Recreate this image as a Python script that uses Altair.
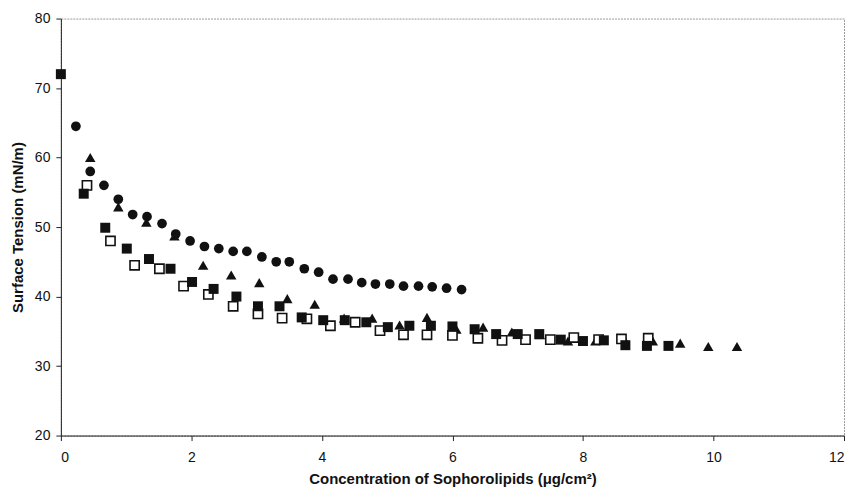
import altair as alt
import pandas as pd

# Filled circles
circle_x = [0.23, 0.45, 0.66, 0.88, 1.10, 1.32, 1.55, 1.76, 1.98, 2.20, 2.42, 2.64, 2.85, 3.08,
            3.30, 3.50, 3.73, 3.95, 4.17, 4.40, 4.61, 4.82, 5.04, 5.25, 5.48, 5.69, 5.91, 6.14]
circle_y = [64.5, 58.0, 56.0, 54.0, 51.8, 51.5, 50.5, 49.0, 48.0, 47.2, 46.9, 46.5, 46.5, 45.7,
            45.0, 45.0, 44.0, 43.5, 42.5, 42.5, 42.0, 41.8, 41.8, 41.5, 41.5, 41.4, 41.2, 41.0]

# Filled triangles
tri_x = [0.45, 0.88, 1.31, 1.74, 2.18, 2.61, 3.04, 3.47, 3.89, 4.34, 4.77, 5.19, 5.61, 6.06,
         6.47, 6.91, 7.34, 7.77, 8.19, 8.63, 9.07, 9.49, 9.92, 10.36]
tri_y = [60.0, 52.9, 50.7, 48.7, 44.5, 43.1, 42.0, 39.7, 38.9, 36.9, 36.9, 35.9, 37.0, 35.3,
         35.6, 34.9, 34.5, 33.6, 33.6, 33.9, 33.6, 33.3, 32.8, 32.8]

# Filled squares
fsq_x = [0.0, 0.35, 0.68, 1.01, 1.35, 1.68, 2.01, 2.34, 2.69, 3.02, 3.35, 3.69, 4.02, 4.35,
         4.68, 5.01, 5.34, 5.67, 6.00, 6.34, 6.67, 7.00, 7.33, 7.66, 8.00, 8.32, 8.65, 8.98, 9.31]
fsq_y = [72.0, 54.8, 49.9, 46.9, 45.4, 44.0, 42.1, 41.1, 40.0, 38.6, 38.6, 37.0, 36.6, 36.6,
         36.3, 35.6, 35.8, 35.8, 35.7, 35.3, 34.6, 34.6, 34.6, 33.8, 33.6, 33.7, 33.0, 32.9, 32.9]

# Open squares
osq_x = [0.40, 0.76, 1.13, 1.51, 1.88, 2.26, 2.64, 3.02, 3.39, 3.77, 4.13, 4.51, 4.89, 5.25,
         5.61, 6.00, 6.39, 6.76, 7.12, 7.50, 7.86, 8.24, 8.59, 9.00]
osq_y = [56.0, 48.0, 44.5, 44.0, 41.5, 40.3, 38.6, 37.5, 36.9, 36.8, 35.8, 36.3, 35.1, 34.5,
         34.5, 34.4, 34.0, 33.7, 33.8, 33.8, 34.1, 33.8, 33.9, 34.0]

x_ticks = [0, 2, 4, 6, 8, 10, 12]
y_ticks = [20, 30, 40, 50, 60, 70, 80]

FONT = "Liberation Sans"

xs = alt.Scale(domain=[0, 12], nice=False, zero=False)
ys = alt.Scale(domain=[20, 80], nice=False, zero=False)

xaxis = alt.Axis(values=x_ticks, grid=False, title="Concentration of Sophorolipids (μg/cm²)",
                 labelFont=FONT, labelFontSize=14, labelColor="#111", labelPadding=10,
                 titleFont=FONT, titleFontSize=15, titleFontWeight="bold", titleColor="#111",
                 titlePadding=7, domainColor="#222", tickColor="#222", tickSize=5)
yaxis = alt.Axis(values=y_ticks, grid=False, title="Surface Tension (mN/m)",
                 labelFont=FONT, labelFontSize=14, labelColor="#111", labelPadding=6,
                 titleFont=FONT, titleFontSize=15, titleFontWeight="bold", titleColor="#111",
                 titlePadding=9, domainColor="#222", tickColor="#222", tickSize=5)


def layer(xv, yv, shape, filled, size):
    df = pd.DataFrame({"x": xv, "y": yv})
    return alt.Chart(df).mark_point(
        shape=shape, filled=filled, size=size,
        color="#111", fill="#111" if filled else "white",
        stroke="#111", strokeWidth=1.6 if not filled else 0, opacity=1
    ).encode(
        x=alt.X("x:Q", scale=xs, axis=xaxis),
        y=alt.Y("y:Q", scale=ys, axis=yaxis),
    )


chart = alt.layer(
    layer(circle_x, circle_y, "circle", True, 95),
    layer(tri_x, tri_y, "triangle-up", True, 110),
    layer(osq_x, osq_y, "square", False, 85),
    layer(fsq_x, fsq_y, "square", True, 100),
).properties(
    width=785, height=418,
    autosize=alt.AutoSizeParams(type="none"),
    padding={"left": 53, "top": 10, "right": 4, "bottom": 54},
    background="white",
).configure_view(
    stroke="#999", strokeWidth=1, strokeDash=[2, 1]
)

chart.save("out.html", embed_options={"renderer": "svg", "actions": False})
